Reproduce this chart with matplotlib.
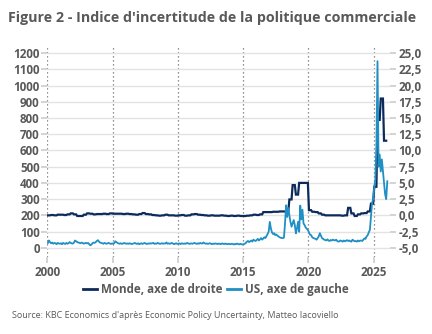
import numpy as np
import matplotlib.pyplot as plt

plt.rcParams['font.family'] = ['Open Sans', 'DejaVu Sans']

# US trade policy uncertainty, monthly, Jan 2000 .. Jan 2026 (left axis)
us_tpu = [
    30, 45, 35, 28, 32, 25, 30, 28, 22, 30, 27, 25,       # 2000
    28, 22, 30, 26, 24, 30, 25, 28, 35, 30, 27, 26,       # 2001
    32, 45, 40, 35, 33, 30, 28, 32, 30, 25, 28, 30,       # 2002
    27, 30, 22, 15, 20, 28, 32, 30, 35, 42, 47, 38,       # 2003
    32, 30, 28, 25, 30, 27, 25, 28, 30, 26, 24, 27,       # 2004
    25, 28, 40, 35, 30, 27, 25, 28, 24, 26, 30, 27,       # 2005
    25, 27, 24, 28, 26, 23, 25, 27, 30, 26, 24, 28,       # 2006
    22, 25, 28, 24, 27, 30, 26, 23, 27, 25, 28, 26,       # 2007
    28, 30, 24, 27, 25, 30, 27, 24, 26, 28, 25, 27,       # 2008
    26, 33, 25, 28, 24, 27, 30, 26, 22, 25, 28, 24,       # 2009
    25, 27, 23, 28, 26, 24, 27, 25, 30, 27, 24, 26,       # 2010
    27, 25, 28, 30, 26, 24, 28, 25, 30, 27, 26, 33,       # 2011
    28, 25, 27, 24, 26, 28, 25, 22, 26, 24, 27, 25,       # 2012
    23, 26, 24, 22, 27, 25, 23, 26, 24, 22, 25, 23,       # 2013
    22, 25, 23, 20, 24, 22, 26, 23, 21, 24, 22, 20,       # 2014
    22, 25, 30, 38, 42, 35, 40, 45, 38, 50, 45, 42,       # 2015
    48, 55, 45, 52, 60, 50, 58, 65, 60, 72, 85, 100,      # 2016
    160, 120, 95, 85, 90, 78, 82, 75, 70, 65, 62, 60,     # 2017
    60, 62, 150, 262, 190, 245, 200, 160, 130, 150, 171, 140,  # 2018
    89, 120, 160, 99, 260, 175, 235, 150, 140, 125, 117, 110,  # 2019
    95, 80, 78, 65, 60, 58, 55, 50, 60, 70, 90, 75,       # 2020
    60, 55, 50, 48, 45, 52, 45, 42, 48, 45, 50, 47,       # 2021
    45, 50, 42, 38, 40, 45, 42, 38, 45, 40, 43, 47,       # 2022
    42, 45, 40, 38, 50, 45, 40, 42, 38, 45, 40, 44,       # 2023
    45, 42, 50, 58, 55, 70, 78, 95, 110, 190, 275, 300,   # 2024
    370, 420, 620, 1150, 500, 575, 470, 545, 470, 400, 330, 300,  # 2025
    410,                                                  # 2026
]

# World trade uncertainty, quarterly, 2000Q1 .. 2025Q4 (right axis)
world_tpu = [
    0.0, 0.05, 0.0, 0.1,      # 2000
    0.1, 0.05, 0.15, 0.3,     # 2001
    0.15, -0.1, -0.1, 0.1,    # 2002
    0.3, 0.25, 0.15, 0.2,     # 2003
    0.2, 0.25, 0.2, 0.3,      # 2004
    0.25, 0.25, 0.25, 0.2,    # 2005
    0.25, 0.2, 0.15, 0.1,     # 2006
    0.2, 0.35, 0.2, 0.15,     # 2007
    0.05, 0.0, -0.05, 0.0,    # 2008
    0.1, 0.0, 0.0, -0.05,     # 2009
    0.0, 0.05, -0.05, 0.0,    # 2010
    0.15, 0.2, 0.1, 0.05,     # 2011
    0.0, -0.05, 0.0, -0.05,   # 2012
    -0.05, 0.0, -0.05, -0.1,  # 2013
    -0.05, -0.1, -0.05, -0.1, # 2014
    -0.1, -0.05, 0.0, 0.1,    # 2015
    0.05, 0.15, 0.5, 0.5,     # 2016
    0.5, 0.55, 0.55, 0.6,     # 2017
    0.6, 0.6, 2.45, 4.66,     # 2018
    3.2, 5.0, 5.0, 5.0,       # 2019
    0.8, 0.55, 0.5, 0.3,      # 2020
    0.1, 0.0, 0.0, 0.0,       # 2021
    0.0, 0.0, -0.05, 0.0,     # 2022
    1.15, 0.3, -0.1, 0.15,    # 2023
    0.3, 0.35, 0.6, 1.8,      # 2024
    4.4, 14.7, 18.0, 11.5,    # 2025
]

left_ticks = list(range(0, 1201, 100))
right_ticks = [-5.0, -2.5, 0.0, 2.5, 5.0, 7.5, 10.0, 12.5, 15.0, 17.5, 20.0, 22.5, 25.0]
year_ticks = [2000, 2005, 2010, 2015, 2020, 2025]

DARK = '#0c2a5b'
LIGHT = '#1f8fc4'
TXT = '#595959'

x_us = 2000 + (np.arange(len(us_tpu)) + 0.5) / 12
world_m = np.repeat(world_tpu, 3)
x_w = 2000 + (np.arange(len(world_m)) + 0.5) / 12

fig = plt.figure(figsize=(4.32, 3.34), dpi=100)
ax1 = fig.add_axes([0.1095, 0.2314, 0.7933, 0.6339])
ax2 = ax1.twinx()
ax1.set_zorder(ax2.get_zorder() + 1)
ax1.patch.set_visible(False)

ax2.plot(x_w, world_m, color=DARK, lw=1.6, solid_joinstyle='miter')
ax1.plot(x_us, us_tpu, color=LIGHT, lw=1.3)

ax1.set_xlim(2000, 2026.25)
ax1.set_ylim(-55, 1250)
ax2.set_ylim(-55 / 40 - 5, 1250 / 40 - 5)

ax1.set_yticks(left_ticks)
ax1.set_yticklabels([str(v) for v in left_ticks])
ax2.set_yticks(right_ticks)
ax2.set_yticklabels([f'{v:.1f}'.replace('.', ',') for v in right_ticks])
ax1.set_xticks(year_ticks)
ax1.set_xticklabels([str(y) for y in year_ticks])

# gridlines on the lower axes so they stay under both lines
ax2.grid(axis='y', color='#e3e3e3', lw=1.0)
for y in year_ticks:
    ax2.axvline(y, color='#6f6f6f', lw=0.9, ls=(0, (1, 2.2)), zorder=0)

for ax in (ax1, ax2):
    for s in ax.spines.values():
        s.set_visible(False)
    ax.tick_params(colors='#c8c8c8', width=1.1, length=4, labelcolor=TXT,
                   labelsize=8.4)
    for lab in ax.get_xticklabels() + ax.get_yticklabels():
        lab.set_fontweight('bold')
ax1.tick_params(axis='y', pad=1.5)
ax2.tick_params(axis='y', pad=2)
ax1.tick_params(axis='x', pad=3)

h1, = ax1.plot([], [], color=DARK, lw=2)
h2, = ax1.plot([], [], color=LIGHT, lw=2)
fig.legend([h1, h2], ['Monde, axe de droite', 'US, axe de gauche'],
           loc='center', bbox_to_anchor=(0.5, 0.134), ncol=2, frameon=False,
           handlelength=1.2, handletextpad=0.35, columnspacing=0.4,
           prop={'weight': 'bold', 'size': 8.4}, labelcolor=TXT)

fig.text(0.018, 1 - 18 / 334, "Figure 2 - Indice d'incertitude de la politique commerciale",
         fontsize=10.3, fontweight='bold', color=TXT, va='center', ha='left')
fig.text(0.027, 1 - 316 / 334,
         "Source: KBC Economics d'après Economic Policy Uncertainty, Matteo Iacoviello",
         fontsize=6.5, color=TXT, va='center', ha='left')

fig.savefig('out.png', dpi=100)
